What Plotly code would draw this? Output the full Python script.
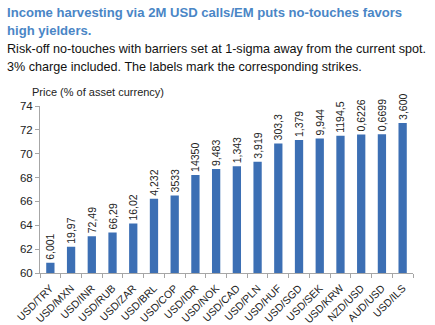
import plotly.graph_objects as go

pairs = ["USD/TRY", "USD/MXN", "USD/INR", "USD/RUB", "USD/ZAR", "USD/BRL", "USD/COP",
         "USD/IDR", "USD/NOK", "USD/CAD", "USD/PLN", "USD/HUF", "USD/SGD", "USD/SEK",
         "USD/KRW", "NZD/USD", "AUD/USD", "USD/ILS"]
prices = [60.85, 62.2, 63.08, 63.39, 64.14, 66.22, 66.5, 68.22, 68.72, 68.94, 69.33,
          70.86, 71.14, 71.28, 71.5, 71.61, 71.64, 72.58]
strikes = ["6,001", "19,97", "72,49", "66,29", "16,02", "4,232", "3533", "14350", "9,483",
           "1,343", "3,919", "303,3", "1,379", "9,944", "1194,5", "0,6226", "0,6699", "3,600"]

L, R, T, B = 40, 22, 106, 52
W, H = 435, 325
pw, ph = W - L - R, H - T - B

def px(x):
    return (x - L) / pw

def py(y):
    return (H - B - y) / ph

font = "Liberation Sans, Arial"
fig = go.Figure(go.Bar(
    x=pairs, y=prices, text=strikes, textposition="outside", textangle=-90,
    constraintext="none",
    textfont=dict(family=font, size=10.5, color="#222222"),
    marker=dict(color="#3c6fb4", line=dict(width=0)), cliponaxis=False,
))

annos = [
    dict(text="<b>Income harvesting via 2M USD calls/EM puts no-touches favors</b>", x=px(5), y=py(12.5),
         font=dict(size=13.1, color="#4a86c6", family=font)),
    dict(text="<b>high yielders.</b>", x=px(5), y=py(31), font=dict(size=13.1, color="#4a86c6", family=font)),
    dict(text="Risk-off no-touches with barriers set at 1-sigma away from the current spot.", x=px(5), y=py(49),
         font=dict(size=12.6, color="#111111", family=font)),
    dict(text="3% charge included. The labels mark the corresponding strikes.", x=px(5), y=py(67),
         font=dict(size=12.6, color="#111111", family=font)),
    dict(text="Price (% of asset currency)", x=px(30), y=py(92), font=dict(size=11, color="#222222", family=font)),
]
for a in annos:
    a.update(xref="paper", yref="paper", xanchor="left", yanchor="middle", showarrow=False)

fig.update_layout(
    width=W, height=H, margin=dict(l=L, r=R, t=T, b=B),
    paper_bgcolor="white", plot_bgcolor="white", bargap=0.6, showlegend=False,
    annotations=annos,
    font=dict(family=font, size=11, color="#222222"),
)
fig.update_yaxes(range=[60, 74], dtick=2, showgrid=False, showline=True, linecolor="#a6a6a6",
                 ticks="outside", ticklen=4, tickcolor="#a6a6a6", tickfont=dict(size=11.5),
                 automargin=False)
fig.update_xaxes(showgrid=False, showline=True, linecolor="#a6a6a6", ticks="outside", ticklen=4,
                 tickcolor="#a6a6a6", tickson="boundaries", tickangle=-45, tickfont=dict(size=10.5),
                 ticklabelstandoff=4, automargin=False)

fig.write_html("out.html")
